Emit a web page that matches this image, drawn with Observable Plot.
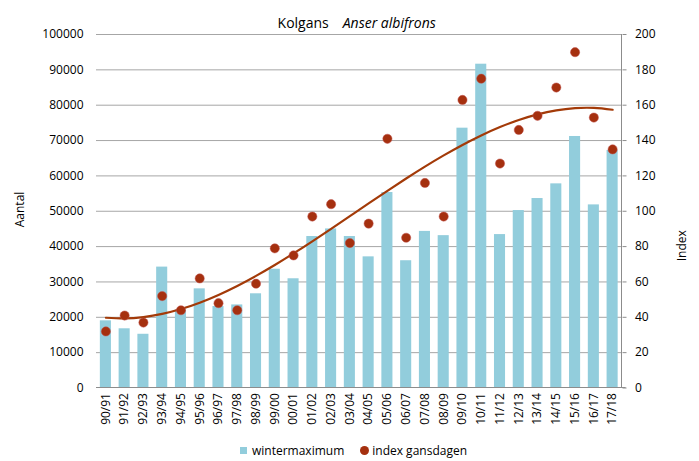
<!DOCTYPE html>
<html>
<head>
<meta charset="utf-8">
<script src="https://cdn.jsdelivr.net/npm/d3@7"></script>
<script src="https://cdn.jsdelivr.net/npm/@observablehq/plot@0.6"></script>
<style>
  html, body { margin: 0; padding: 0; background: #fff; }
  #chart { width: 699px; font-family: "Open Sans", sans-serif; }
  .legend { display: flex; justify-content: center; align-items: center; font-size: 12px; color: #000; height: 21px; margin-left: 8px; }
  .legend .sw { display: inline-block; width: 7px; height: 7px; background: #92cddc; margin-right: 5px; }
  .legend .dt { display: inline-block; width: 9px; height: 9px; border-radius: 50%; background: #a5300f; margin-right: 3px; margin-left: 16px; }
</style>
</head>
<body>
<div id="chart"></div>
<script>
const seasons = ["90/91","91/92","92/93","93/94","94/95","95/96","96/97","97/98","98/99","99/00",
  "00/01","01/02","02/03","03/04","04/05","05/06","06/07","07/08","08/09","09/10",
  "10/11","11/12","12/13","13/14","14/15","15/16","16/17","17/18"];
const wintermaximum = [19000,16750,15200,34200,22100,28050,23050,23500,26650,33600,
  30900,42850,45000,42850,37100,55300,36000,44300,43100,73500,
  91600,43400,50200,53600,57750,71150,51800,67200];
const indexGansdagen = [32,41,37,52,44,62,48,44,59,79,
  75,97,104,82,93,141,85,116,97,163,
  175,127,146,154,170,190,153,135];
const leftTicks = [0,10000,20000,30000,40000,50000,60000,70000,80000,90000,100000];
const rightTicks = [0,20,40,60,80,100,120,140,160,180,200];

// cubic polynomial trendline (least squares) of the index, as in the original chart
function polyFit(ys, order) {
  const n = order + 1;
  const A = Array.from({length: n}, () => new Array(n + 1).fill(0));
  ys.forEach((y, i) => {
    const x = i + 1;
    for (let r = 0; r < n; r++) {
      for (let c = 0; c < n; c++) A[r][c] += Math.pow(x, r + c);
      A[r][n] += y * Math.pow(x, r);
    }
  });
  for (let p = 0; p < n; p++) {
    let m = p;
    for (let r = p + 1; r < n; r++) if (Math.abs(A[r][p]) > Math.abs(A[m][p])) m = r;
    [A[p], A[m]] = [A[m], A[p]];
    for (let r = 0; r < n; r++) {
      if (r === p) continue;
      const f = A[r][p] / A[p][p];
      for (let c = p; c <= n; c++) A[r][c] -= f * A[p][c];
    }
  }
  const coef = A.map((row, i) => row[n] / row[i]);
  return ys.map((_, i) => coef.reduce((s, a, k) => s + a * Math.pow(i + 1, k), 0));
}
const trend = polyFit(indexGansdagen, 3);

const K = 500; // 100000 antal == 200 index
const rows = seasons.map((s, i) => ({season: s, winter: wintermaximum[i], index: indexGansdagen[i], trend: trend[i]}));

const mT = 34, mB = 52.5, mL = 96, mR = 77.5, W = 699, H = 440;

const plot = Plot.plot({
  width: W, height: H,
  marginTop: mT, marginBottom: mB, marginLeft: mL, marginRight: mR,
  x: {domain: seasons, paddingInner: 0.41, paddingOuter: 0.205, round: false},
  y: {domain: [0, 100000]},
  style: {fontFamily: "Open Sans, sans-serif", fontSize: "12px", color: "#000", background: "#fff"},
  marks: [
    Plot.gridY({ticks: leftTicks.slice(1), stroke: "#a6a6a6", strokeOpacity: 1}),
    Plot.barY(rows, {x: "season", y: "winter", fill: "#92cddc"}),
    Plot.line(rows, {x: "season", y: d => d.trend * K, stroke: "#a33a08", strokeWidth: 2.2, curve: "natural"}),
    Plot.dot(rows, {x: "season", y: d => d.index * K, r: 4.6, fill: "#a5300f", stroke: "#c0504d", strokeWidth: 0.5}),
    Plot.axisY({ticks: leftTicks, tickSize: 0, tickPadding: 13, tickFormat: d => String(d), label: null}),
    Plot.axisY({anchor: "right", ticks: rightTicks.map(d => d * K), tickFormat: d => String(d / K), tickSize: 4, tickPadding: 9, stroke: "#8c8c8c", label: null}),
    Plot.axisX({tickRotate: -90, tickSize: 0, tickPadding: 5, label: null}),
    Plot.text(["Aantal"], {frameAnchor: "left", dx: -76, dy: 16, rotate: -90, fontSize: 12}),
    Plot.text(["Index"], {frameAnchor: "right", dx: 60.5, dy: 19, rotate: -90, fontSize: 12}),
    Plot.text(["Kolgans"], {frameAnchor: "top", dx: -30.5, dy: -16, textAnchor: "end", fontSize: 14}),
    Plot.text(["Anser albifrons"], {frameAnchor: "top", dx: -16.5, dy: -16, textAnchor: "start", fontStyle: "italic", fontSize: 14})
  ]
});

// frame lines: bottom axis line and right axis line
const svg = d3.select(plot);
svg.append("line").attr("x1", mL).attr("x2", W - mR + 4).attr("y1", H - mB).attr("y2", H - mB).attr("stroke", "#8c8c8c");
svg.append("line").attr("x1", W - mR).attr("x2", W - mR).attr("y1", mT).attr("y2", H - mB).attr("stroke", "#8c8c8c");

document.getElementById("chart").appendChild(plot);
const legend = document.createElement("div");
legend.className = "legend";
legend.innerHTML = '<span class="sw"></span><span>wintermaximum</span><span class="dt"></span><span>index gansdagen</span>';
document.getElementById("chart").appendChild(legend);
</script>
</body>
</html>
